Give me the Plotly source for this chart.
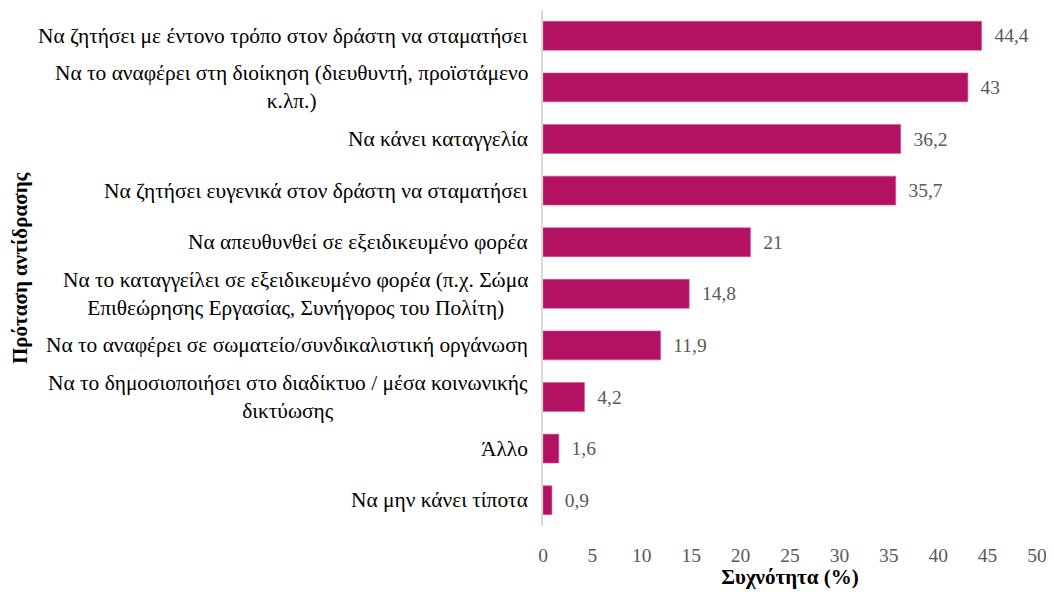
import plotly.graph_objects as go

categories = [
    "Να ζητήσει με έντονο τρόπο στον δράστη να σταματήσει",
    "Να το αναφέρει στη διοίκηση (διευθυντή, προϊστάμενο<br>κ.λπ.)",
    "Να κάνει καταγγελία",
    "Να ζητήσει ευγενικά στον δράστη να σταματήσει",
    "Να απευθυνθεί σε εξειδικευμένο φορέα",
    "Να το καταγγείλει σε εξειδικευμένο φορέα (π.χ. Σώμα<br>Επιθεώρησης Εργασίας, Συνήγορος του Πολίτη)",
    "Να το αναφέρει σε σωματείο/συνδικαλιστική οργάνωση",
    "Να το δημοσιοποιήσει στο διαδίκτυο / μέσα κοινωνικής<br>δικτύωσης",
    "Άλλο",
    "Να μην κάνει τίποτα",
]
values = [44.4, 43, 36.2, 35.7, 21, 14.8, 11.9, 4.2, 1.6, 0.9]
tick_vals = [0, 5, 10, 15, 20, 25, 30, 35, 40, 45, 50]

FONT = "Liberation Serif"
labels = [("%g" % v).replace(".", ",") for v in values]
ids = list(range(len(categories)))

fig = go.Figure()
fig.add_trace(go.Bar(
    x=values, y=ids, orientation="h",
    marker=dict(color="#B31263", line=dict(color="#D9559A", width=0.6)),
    width=0.56,
    text=labels, textposition="outside",
    texttemplate="  %{text}",
    textfont=dict(family=FONT, size=19.5, color="#595959"),
    cliponaxis=False,
    hoverinfo="skip",
))

annotations = []
for i, c in zip(ids, categories):
    annotations.append(dict(
        x=0, xref="paper", y=i, yref="y", text=c, showarrow=False,
        xanchor="right", yanchor="middle", align="center", xshift=-13,
        font=dict(family=FONT, size=21.4, color="#000000"),
    ))
annotations.append(dict(
    x=0, xref="paper", y=0.5, yref="paper", text="<b>Πρόταση αντίδρασης</b>",
    showarrow=False, textangle=-90, xanchor="center", yanchor="middle",
    xshift=-523, font=dict(family=FONT, size=21, color="#000000"),
))
fig.update_layout(annotations=annotations)

fig.update_layout(
    width=1038, height=581,
    margin=dict(l=535, r=9, t=2, b=63, autoexpand=False),
    plot_bgcolor="white", paper_bgcolor="white",
    showlegend=False,
    xaxis=dict(
        range=[0, 50], tickvals=tick_vals, showgrid=False, zeroline=False,
        showline=False, ticks="outside", ticklen=12, tickcolor="rgba(0,0,0,0)",
        ticklabeloverflow="allow", automargin=False,
        tickfont=dict(family=FONT, size=19.5, color="#595959"),
        title=dict(text="<b>Συχνότητα (%)</b>", font=dict(family=FONT, size=21, color="#000000"), standoff=13),
    ),
    yaxis=dict(
        range=[len(categories) - 0.5, -0.5], showticklabels=False, automargin=False,
        showgrid=False, zeroline=False, showline=True, linecolor="#D9D9D9",
        linewidth=2, ticks="",
    ),
)

fig.write_html("out.html")
